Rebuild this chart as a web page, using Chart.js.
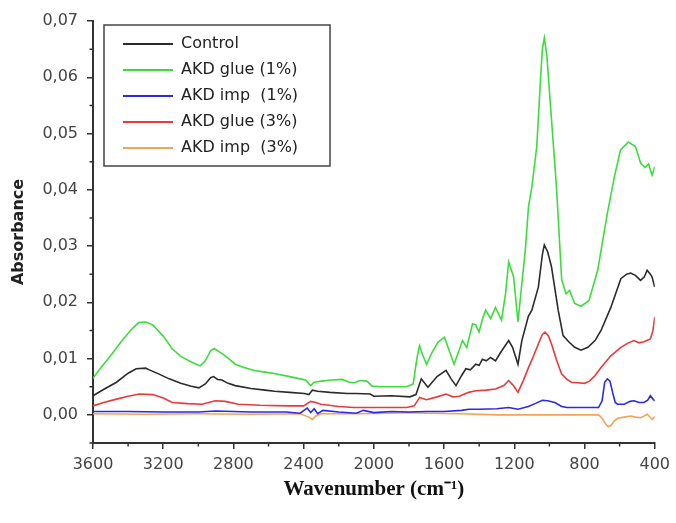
<!DOCTYPE html>
<html>
<head>
<meta charset="utf-8">
<script src="https://cdn.jsdelivr.net/npm/chart.js@4.4.1/dist/chart.umd.min.js"></script>
<style>
  body { margin: 0; background: #fff; }
  #graph { display: block; }
</style>
</head>
<body>
<canvas id="graph" width="676" height="523"></canvas>
<script>
// FTIR spectra, values: [wavenumber, absorbance]
const control = [[3600,0.0034],[3540,0.0045],[3466,0.0058],[3400,0.0074],[3354,0.0082],[3300,0.0083],[3279,0.0080],[3220,0.0072],[3166,0.0064],[3100,0.0056],[3040,0.0051],[2997,0.0048],[2960,0.0055],[2930,0.0066],[2913,0.0068],[2890,0.0063],[2866,0.0062],[2830,0.0056],[2790,0.0052],[2700,0.0047],[2620,0.0044],[2565,0.0042],[2480,0.0040],[2396,0.0038],[2370,0.0036],[2350,0.0044],[2320,0.0042],[2250,0.0040],[2150,0.0038],[2100,0.0038],[2021,0.0037],[2000,0.0033],[1900,0.0034],[1795,0.0032],[1760,0.0036],[1730,0.0064],[1692,0.0049],[1640,0.0068],[1589,0.0079],[1560,0.0064],[1532,0.0052],[1500,0.0070],[1476,0.0082],[1450,0.0080],[1420,0.0090],[1400,0.0088],[1382,0.0099],[1360,0.0096],[1335,0.0102],[1307,0.0096],[1280,0.0110],[1232,0.0132],[1210,0.0120],[1179,0.0090],[1157,0.0132],[1120,0.0175],[1100,0.0186],[1063,0.0227],[1040,0.0285],[1029,0.0302],[1010,0.0290],[988,0.0263],[950,0.0186],[922,0.0141],[890,0.0130],[856,0.0120],[820,0.0115],[781,0.0120],[740,0.0132],[706,0.0150],[650,0.0191],[593,0.0242],[560,0.0250],[537,0.0252],[510,0.0248],[481,0.0239],[460,0.0245],[443,0.0257],[425,0.0250],[415,0.0245],[400,0.0227]];

const glue1 = [[3600,0.0065],[3560,0.0082],[3500,0.0105],[3440,0.0130],[3380,0.0152],[3340,0.0164],[3300,0.0165],[3260,0.0160],[3200,0.0140],[3150,0.0118],[3100,0.0104],[3040,0.0094],[2990,0.0087],[2960,0.0096],[2930,0.0114],[2910,0.0118],[2880,0.0112],[2860,0.0108],[2820,0.0098],[2790,0.0090],[2740,0.0084],[2680,0.0079],[2620,0.0076],[2560,0.0073],[2480,0.0068],[2420,0.0064],[2390,0.0062],[2360,0.0052],[2340,0.0058],[2300,0.0060],[2240,0.0062],[2180,0.0063],[2140,0.0058],[2110,0.0057],[2080,0.0061],[2040,0.0060],[2010,0.0051],[1960,0.0050],[1880,0.0050],[1814,0.0050],[1776,0.0055],[1755,0.0100],[1740,0.0123],[1720,0.0105],[1700,0.0090],[1670,0.0110],[1635,0.0129],[1598,0.0138],[1575,0.0118],[1543,0.0090],[1520,0.0110],[1495,0.0132],[1471,0.0120],[1438,0.0162],[1420,0.0160],[1401,0.0147],[1380,0.0172],[1363,0.0186],[1335,0.0171],[1307,0.0191],[1273,0.0168],[1250,0.0215],[1232,0.0272],[1204,0.0245],[1179,0.0165],[1157,0.0233],[1138,0.0290],[1119,0.0370],[1100,0.0405],[1072,0.0477],[1050,0.0600],[1040,0.0650],[1029,0.0670],[1015,0.0640],[988,0.0525],[960,0.0406],[930,0.0240],[905,0.0215],[885,0.0221],[856,0.0198],[820,0.0193],[775,0.0203],[725,0.0257],[670,0.0358],[630,0.0423],[595,0.0471],[550,0.0485],[510,0.0477],[480,0.0447],[455,0.0440],[435,0.0446],[415,0.0426],[400,0.0441]];

const imp1 = [[3600,0.0006],[3400,0.0006],[3200,0.0005],[3000,0.0005],[2900,0.0007],[2700,0.0005],[2500,0.0005],[2420,0.0003],[2380,0.0012],[2360,0.0004],[2340,0.0011],[2320,0.0002],[2290,0.0008],[2200,0.0005],[2100,0.0003],[2060,0.0008],[2000,0.0004],[1900,0.0006],[1800,0.0005],[1700,0.0006],[1600,0.0006],[1500,0.0008],[1459,0.0010],[1400,0.0010],[1300,0.0011],[1232,0.0013],[1179,0.0010],[1120,0.0015],[1082,0.0020],[1040,0.0026],[1010,0.0025],[969,0.0022],[930,0.0015],[900,0.0013],[800,0.0013],[720,0.0013],[700,0.0025],[685,0.0058],[670,0.0064],[655,0.0060],[640,0.0040],[625,0.0022],[612,0.0019],[574,0.0019],[540,0.0024],[518,0.0025],[490,0.0022],[462,0.0022],[440,0.0026],[425,0.0034],[410,0.0028],[400,0.0025]];

const glue3 = [[3600,0.0016],[3540,0.0022],[3466,0.0028],[3400,0.0033],[3335,0.0037],[3260,0.0036],[3200,0.0030],[3148,0.0022],[3060,0.0020],[2979,0.0019],[2930,0.0023],[2903,0.0025],[2847,0.0024],[2772,0.0019],[2650,0.0017],[2490,0.0016],[2400,0.0016],[2360,0.0024],[2330,0.0022],[2302,0.0019],[2200,0.0015],[2114,0.0013],[1950,0.0013],[1814,0.0013],[1770,0.0016],[1739,0.0031],[1701,0.0027],[1640,0.0032],[1589,0.0037],[1550,0.0032],[1513,0.0033],[1460,0.0040],[1420,0.0043],[1360,0.0044],[1307,0.0046],[1260,0.0052],[1232,0.0061],[1205,0.0052],[1179,0.0040],[1150,0.0060],[1119,0.0084],[1090,0.0105],[1063,0.0126],[1040,0.0143],[1025,0.0147],[1005,0.0140],[988,0.0126],[960,0.0098],[931,0.0073],[900,0.0063],[875,0.0058],[837,0.0057],[800,0.0056],[772,0.0060],[740,0.0070],[706,0.0084],[650,0.0105],[593,0.0120],[550,0.0128],[518,0.0132],[490,0.0128],[462,0.0130],[425,0.0135],[410,0.0150],[400,0.0174]];

const imp3 = [[3600,0.0002],[3300,0.0001],[3000,0.0002],[2700,0.0001],[2420,0.0002],[2370,-0.0004],[2350,-0.0008],[2330,-0.0002],[2300,0.0002],[2100,0.0002],[1900,0.0003],[1800,0.0004],[1700,0.0003],[1500,0.0002],[1300,0.0000],[1100,0.0000],[900,0.0000],[720,0.0000],[700,-0.0006],[680,-0.0016],[665,-0.0021],[650,-0.0019],[631,-0.0011],[610,-0.0006],[575,-0.0004],[537,-0.0002],[510,-0.0004],[481,-0.0005],[460,-0.0002],[443,0.0001],[430,-0.0003],[415,-0.0008],[400,-0.0003]];

const seriesNames = ['Control', 'AKD glue (1%)', 'AKD imp  (1%)', 'AKD glue (3%)', 'AKD imp  (3%)'];
const seriesColors = ['#2b2b2b', '#3ddc3d', '#2a2ae0', '#e83a3a', '#f2a35a'];

const xTicks = [3600, 3200, 2800, 2400, 2000, 1600, 1200, 800, 400];
const xMinor = [3400, 3000, 2600, 2200, 1800, 1400, 1000, 600];
const yTicks = [0, 0.01, 0.02, 0.03, 0.04, 0.05, 0.06, 0.07];
const yMinor = [-0.005, 0.005, 0.015, 0.025, 0.035, 0.045, 0.055, 0.065];

const toXY = arr => arr.map(e => ({ x: e[0], y: e[1] }));
const allSeries = [control, glue1, imp1, glue3, imp3];

// short ticks between the labelled ones
const minorTicks = {
    id: 'minorTicks',
    afterDraw(chart) {
        const c = chart.ctx, xs = chart.scales.x, ys = chart.scales.y;
        c.save();
        c.strokeStyle = '#333';
        c.lineWidth = 1.5;
        c.beginPath();
        xMinor.forEach(v => {
            const px = xs.getPixelForValue(v);
            c.moveTo(px, xs.top); c.lineTo(px, xs.top + 3.5);
        });
        yMinor.forEach(v => {
            const py = ys.getPixelForValue(v);
            c.moveTo(ys.right, py); c.lineTo(ys.right - 3.5, py);
        });
        c.stroke();
        c.restore();
    }
};

// boxed legend inside the plot, like the original
const boxLegend = {
    id: 'boxLegend',
    afterDraw(chart) {
        const c = chart.ctx;
        c.save();
        c.strokeStyle = '#444';
        c.lineWidth = 1.5;
        c.strokeRect(104, 25, 226, 141);
        c.font = '16px "DejaVu Sans"';
        c.textBaseline = 'middle';
        chart.data.datasets.forEach((ds, i) => {
            const y = 44 + i * 26;
            c.strokeStyle = ds.borderColor;
            c.lineWidth = 2;
            c.beginPath();
            c.moveTo(123, y); c.lineTo(173, y);
            c.stroke();
            c.fillStyle = '#222';
            c.fillText(ds.label, 181, y);
        });
        c.restore();
    }
};

new Chart(document.getElementById('graph'), {
    type: 'line',
    data: {
        datasets: allSeries.map((s, i) => ({
            label: seriesNames[i],
            data: toXY(s),
            borderColor: seriesColors[i],
            backgroundColor: seriesColors[i],
            borderWidth: 1.6,
            pointRadius: 0,
            tension: 0,
            fill: false
        }))
    },
    options: {
        responsive: false,
        animation: false,
        events: [],
        layout: { padding: { top: 21, right: 15, left: 0, bottom: 0 } },
        plugins: {
            legend: { display: false },
            tooltip: { enabled: false }
        },
        scales: {
            x: {
                type: 'linear',
                reverse: true,
                min: 400,
                max: 3600,
                afterBuildTicks: s => { s.ticks = xTicks.map(v => ({ value: v })); },
                afterFit: s => { s.height = 80; },
                border: { display: true, color: '#333', width: 2 },
                grid: { display: true, drawOnChartArea: false, drawTicks: true, tickLength: 6, color: '#333', lineWidth: 1.5 },
                ticks: {
                    maxRotation: 0,
                    padding: 6,
                    color: '#444',
                    font: { family: 'DejaVu Sans', size: 16 },
                    callback: v => String(v)
                },
                title: {
                    display: true,
                    text: 'Wavenumber (cm\u207B\u00B9)',
                    color: '#111',
                    font: { family: 'Liberation Serif', size: 21, weight: 'bold' },
                    padding: { top: 0, bottom: 21 }
                }
            },
            y: {
                min: -0.005,
                max: 0.07,
                afterBuildTicks: s => { s.ticks = yTicks.map(v => ({ value: v })); },
                afterFit: s => { s.width = 93; },
                border: { display: true, color: '#333', width: 2 },
                grid: { display: true, drawOnChartArea: false, drawTicks: true, tickLength: 6, color: '#333', lineWidth: 1.5 },
                ticks: {
                    padding: 9,
                    color: '#444',
                    font: { family: 'DejaVu Sans', size: 16 },
                    callback: v => v.toFixed(2).replace('.', ',')
                },
                title: {
                    display: true,
                    text: 'Absorbance',
                    color: '#222',
                    font: { family: 'DejaVu Sans', size: 16, weight: 'bold' },
                    padding: { top: 9, bottom: 0 }
                }
            }
        }
    },
    plugins: [minorTicks, boxLegend]
});
</script>
</body>
</html>
